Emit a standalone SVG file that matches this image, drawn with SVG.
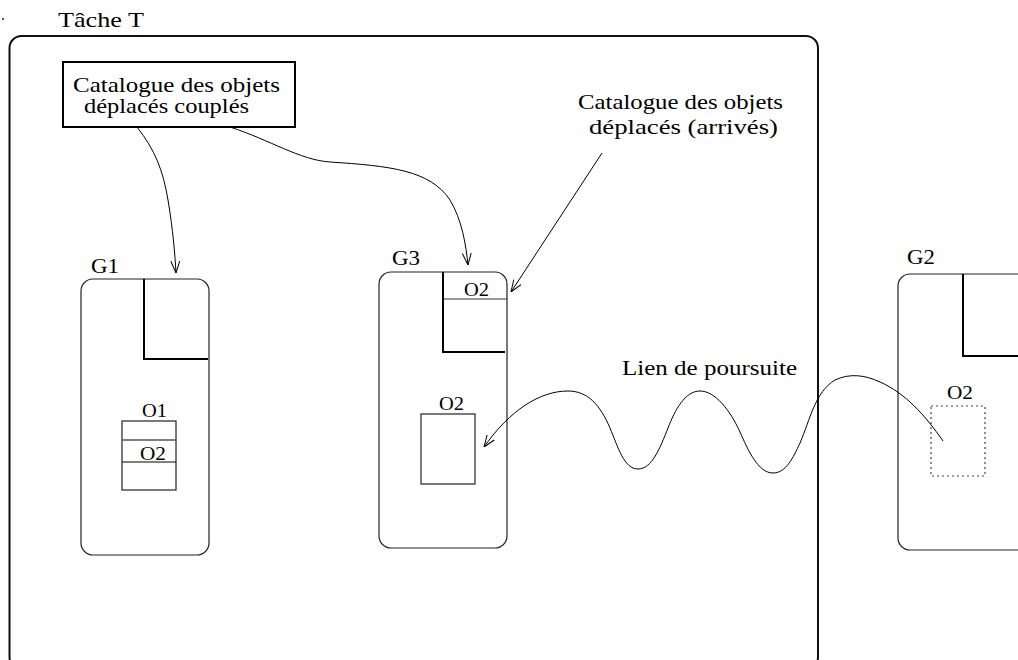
<svg xmlns="http://www.w3.org/2000/svg" width="1018" height="660" viewBox="0 0 1018 660">
<defs>
<marker id="arr" viewBox="0 0 12 10" refX="12" refY="5" markerWidth="12" markerHeight="10" markerUnits="userSpaceOnUse" orient="auto">
<path d="M0,0.5 L12,5 L0,9.5" fill="none" stroke="#000" stroke-width="1"/>
</marker>
</defs>
<style>
text{font-family:"Liberation Serif","Times New Roman",serif;fill:#000}
.t{font-size:22px}
.h{font-size:22px}
.s{font-size:19px}
.g{fill:none;stroke:#222;stroke-width:1.2}
.L{fill:none;stroke:#000;stroke-width:2}
.c{fill:none;stroke:#000;stroke-width:1}
</style>
<rect width="1018" height="660" fill="#fff"/>
<g id="task">
<circle cx="3" cy="19" r="0.9" fill="#000"/>
<text x="58" y="27" class="t" textLength="86" lengthAdjust="spacingAndGlyphs">Tâche T</text>
<rect x="9.5" y="36" width="808.5" height="633" rx="12" fill="none" stroke="#111" stroke-width="2"/>
</g>
<g id="catalogue-couples">
<rect x="63" y="62" width="232" height="65" fill="none" stroke="#000" stroke-width="2"/>
<text x="73" y="92" class="t" textLength="207" lengthAdjust="spacingAndGlyphs">Catalogue des objets</text>
<text x="84" y="113" class="t" textLength="165" lengthAdjust="spacingAndGlyphs">déplacés couplés</text>
</g>
<g id="catalogue-arrives">
<text x="578" y="109" class="t" textLength="205" lengthAdjust="spacingAndGlyphs">Catalogue des objets</text>
<text x="589" y="134" class="t" textLength="189" lengthAdjust="spacingAndGlyphs">déplacés (arrivés)</text>
</g>
<g id="G1">
<text x="91" y="273" class="h" textLength="28" lengthAdjust="spacingAndGlyphs">G1</text>
<rect x="81" y="279" width="128" height="276" rx="12" class="g"/>
<path d="M144,279 V359 H208" class="L"/>
<text x="142" y="417" class="s" textLength="25" lengthAdjust="spacingAndGlyphs">O1</text>
<rect x="122" y="421" width="54" height="69" class="g"/>
<line x1="122" y1="440" x2="176" y2="440" stroke="#555" stroke-width="1.5"/>
<line x1="122" y1="462" x2="176" y2="462" stroke="#000" stroke-width="1"/>
<text x="140" y="460" class="s" textLength="26" lengthAdjust="spacingAndGlyphs">O2</text>
</g>
<g id="G3">
<text x="392" y="265" class="h" textLength="28" lengthAdjust="spacingAndGlyphs">G3</text>
<rect x="379" y="272" width="128" height="276" rx="12" class="g"/>
<path d="M443,272 V352 H505" class="L"/>
<line x1="443" y1="299" x2="507" y2="299" stroke="#333" stroke-width="1.2"/>
<text x="464" y="296" class="s" textLength="25" lengthAdjust="spacingAndGlyphs">O2</text>
<text x="439" y="410" class="s" textLength="25" lengthAdjust="spacingAndGlyphs">O2</text>
<rect x="421" y="414" width="54" height="70" class="g"/>
</g>
<g id="G2">
<text x="907" y="264" class="h" textLength="28" lengthAdjust="spacingAndGlyphs">G2</text>
<rect x="898" y="274" width="140" height="276" rx="12" class="g"/>
<path d="M963,274 V356 H1018" class="L"/>
<text x="947" y="399" class="s" textLength="26" lengthAdjust="spacingAndGlyphs">O2</text>
<rect x="931" y="406" width="54" height="70" fill="none" stroke="#444" stroke-width="1.2" stroke-dasharray="2,3"/>
</g>
<g id="lien-label">
<text x="622" y="375" class="t" textLength="175" lengthAdjust="spacingAndGlyphs">Lien de poursuite</text>
</g>
<g id="connectors">
<path d="M137,127 C155,150 163,170 168,200 C173,230 175,255 176,273" class="c" marker-end="url(#arr)"/>
<path d="M230,127 C270,140 300,160 330,162 C390,166 430,170 450,200 C462,220 466,245 468,265" class="c" marker-end="url(#arr)"/>
<path d="M602,153 L511,292" class="c" marker-end="url(#arr)"/>
<path d="M943,441 C925,415 905,393 880,382 C865,375 850,373 835,380 C815,392 810,420 800,443 C793,458 786,473 773,473 C758,473 748,450 740,432 C730,410 715,391 700,391 C685,391 675,410 668,428 C660,448 652,469 638,469 C624,469 618,447 610,428 C600,405 588,391 568,391 C540,391 510,410 484,447" class="c" marker-end="url(#arr)"/>
</g>
</svg>
